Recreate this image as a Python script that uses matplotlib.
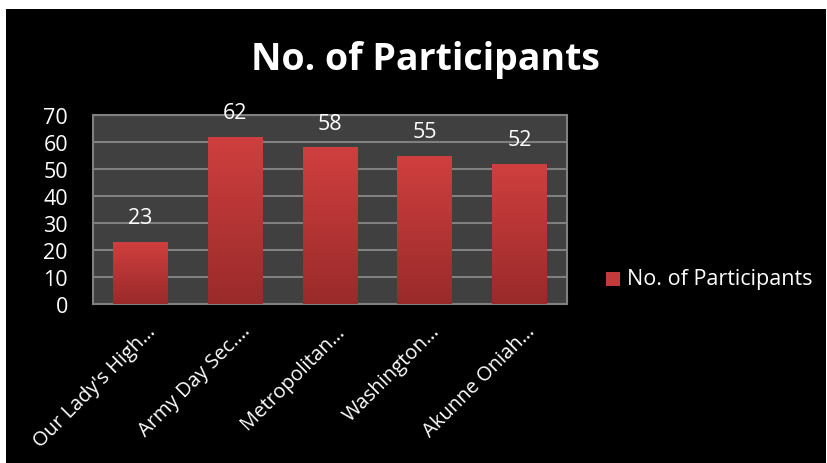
import matplotlib
matplotlib.use("Agg")
import matplotlib.pyplot as plt
import numpy as np
from matplotlib.patches import Rectangle
from matplotlib.colors import LinearSegmentedColormap
from matplotlib.transforms import ScaledTranslation

categories = ["Our Lady's High…", "Army Day Sec.…", "Metropolitan…", "Washington…", "Akunne Oniah…"]
values = [23, 62, 58, 55, 52]
series_name = "No. of Participants"
yticks = [0, 10, 20, 30, 40, 50, 60, 70]

plt.rcParams['font.family'] = ['Open Sans', 'DejaVu Sans']

W, H = 828, 464
fig = plt.figure(figsize=(W / 100, H / 100), dpi=100, facecolor='white')
fig.patches.append(Rectangle((6 / W, 0), 820 / W, 454 / H, transform=fig.transFigure,
                             facecolor='black', edgecolor='none', zorder=-10))

ax = fig.add_axes([93 / W, 1 - 305 / H, (567 - 93) / W, (305 - 116) / H])
ax.set_zorder(5)
ax.set_facecolor('#404040')

x = np.arange(len(categories))
bw = 0.58
bars = ax.bar(x, values, width=bw, color='none', edgecolor='none', zorder=3)
grad = np.linspace(0, 1, 256).reshape(-1, 1)
cmap = LinearSegmentedColormap.from_list('g', ['#9a2a2a', '#d03f3f'])
for b in bars:
    x0, w, h = b.get_x(), b.get_width(), b.get_height()
    im = ax.imshow(grad, extent=(x0, x0 + w, 0, h), origin='lower', cmap=cmap,
                   aspect='auto', zorder=3)
    im.set_clip_path(b)
ax.set_xlim(-0.5, len(categories) - 0.5)
ax.set_ylim(0, 70)

for xi, v in zip(x, values):
    ax.annotate(str(v), (xi, v), xytext=(0, 10), textcoords='offset points',
                ha='center', va='bottom', color='white', fontsize=15.5)

ax.set_yticks(yticks)
ax.set_yticklabels([str(t) for t in yticks], color='white', fontsize=15.5)
ax.yaxis.grid(True, color='#808080', linewidth=1.5, zorder=1)
ax.set_axisbelow(True)
ax.tick_params(axis='both', length=0)
ax.tick_params(axis='y', pad=18)
ax.set_xticks(x)
ax.set_xticklabels(categories, rotation=45, ha='right', va='top', rotation_mode='anchor',
                   color='white', fontsize=14.5)
ax.tick_params(axis='x', pad=12)
off = ScaledTranslation(5 / 100, 0, fig.dpi_scale_trans)
for lab in ax.get_xticklabels():
    lab.set_transform(lab.get_transform() + off)
for s in ax.spines.values():
    s.set_color('#808080')
    s.set_linewidth(1.5)

fig.text(425 / W, 1 - 60 / H, "No. of Participants", ha='center', va='center',
         color='white', fontsize=27, fontweight='bold')

fig.patches.append(Rectangle((606 / W, 1 - 287 / H), 14 / W, 14 / H, transform=fig.transFigure,
                             facecolor='#c23a3a', edgecolor='none'))
fig.text(627 / W, 1 - 280 / H, series_name, ha='left', va='center', color='white', fontsize=15.5)

fig.savefig('out.png', dpi=100, facecolor=fig.get_facecolor())
